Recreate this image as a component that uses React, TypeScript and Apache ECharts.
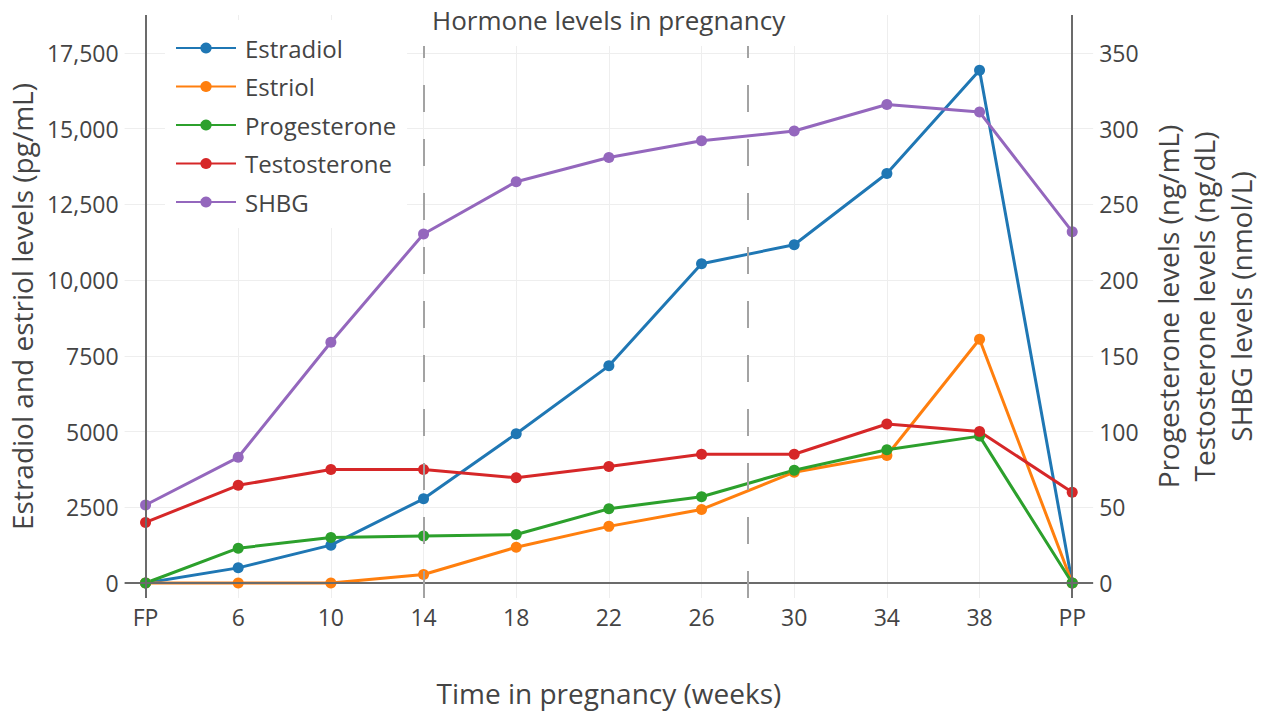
import React, { useEffect, useRef } from 'react';
import * as echarts from 'echarts';

// ---- data ----
const weekLabels = ['FP', '6', '10', '14', '18', '22', '26', '30', '34', '38', 'PP'];
const weekIndex = [0, 1, 2, 3, 4, 5, 6, 7, 8, 9, 10];
const estradiol = [0, 500, 1250, 2780, 4930, 7170, 10540, 11170, 13520, 16930, 0];
const estriol = [0, 0, 0, 280, 1180, 1870, 2430, 3660, 4210, 8050, 0];
const progesterone = [0, 23, 30, 31, 32, 49, 57, 74.5, 88, 97, 0];
const testosterone = [40, 64.5, 75, 75, 69.5, 77, 85, 85, 105, 100, 60];
const shbg = [51.5, 83, 159, 230.5, 265, 281, 292, 298.5, 316, 311, 232];
const leftTicks = [0, 2500, 5000, 7500, 10000, 12500, 15000, 17500];
const leftTickLabels = ['0', '2500', '5000', '7500', '10,000', '12,500', '15,000', '17,500'];
const rightTicks = [0, 50, 100, 150, 200, 250, 300, 350];
const trimesterBreaks = [3, 6.5]; // week 14 and week 28 on the index axis

const FONT = 'Open Sans';
const TXT = '#444';
const GRID = '#eeeeee';

const pairs = (vals: number[]) => vals.map((v, i) => [weekIndex[i], v]);

export default function App() {
  const ref = useRef<HTMLDivElement>(null);
  useEffect(() => {
    document.body.style.margin = '0';
    if (!ref.current) return;
    const chart = echarts.init(ref.current, undefined, { renderer: 'svg' });
    const colors = ['#1f77b4', '#ff7f0e', '#2ca02c', '#d62728', '#9467bd'];
    const mk = (name: string, vals: number[], idx: number, yAxisIndex: number) => ({
      type: 'line',
      name,
      data: pairs(vals),
      yAxisIndex,
      symbol: 'circle',
      symbolSize: 11,
      showSymbol: true,
      color: colors[idx],
      lineStyle: { width: 3, color: colors[idx] },
      itemStyle: { color: colors[idx] },
      z: 3,
    });
    const axisLineStyle = { color: '#6b6b6b', width: 2, type: 'solid' };
    const dashStyle = { color: '#a3a3a3', width: 2, type: [27, 27] };
    const option: any = {
      animation: false,
      textStyle: { fontFamily: FONT },
      title: {
        text: 'Hormone levels in pregnancy',
        left: 410,
        top: 0,
        padding: [7, 22, 13, 22],
        backgroundColor: '#fff',
        textStyle: { fontSize: 26, fontWeight: 'normal', color: TXT, fontFamily: FONT },
      },
      legend: {
        data: ['Estradiol', 'Estriol', 'Progesterone', 'Testosterone', 'SHBG'],
        orient: 'vertical',
        left: 165,
        top: 20,
        padding: [16, 11, 14, 10],
        backgroundColor: '#fff',
        itemWidth: 60,
        itemHeight: 14,
        itemGap: 14.5,
        textStyle: { fontSize: 24, color: TXT, lineHeight: 24, fontFamily: FONT, padding: [0, 0, 0, 4] },
      },
      grid: { left: 124, right: 170, top: 15, bottom: 115 },
      xAxis: {
        type: 'value',
        min: -0.226,
        max: 10.226,
        name: 'Time in pregnancy (weeks)',
        nameLocation: 'middle',
        nameGap: 81,
        nameTextStyle: { fontSize: 28, color: TXT, fontFamily: FONT },
        axisLine: { show: false },
        axisTick: { show: false, customValues: weekIndex },
        axisLabel: {
          customValues: weekIndex,
          formatter: (v: number) => weekLabels[Math.round(v)] ?? '',
          fontSize: 23,
          color: TXT,
          margin: 7,
          fontFamily: FONT,
        },
        splitLine: { show: true, lineStyle: { color: GRID, width: 1 } },
      },
      yAxis: [
        {
          type: 'value',
          position: 'left',
          min: -495.3,
          max: 18754.7,
          name: 'Estradiol and estriol levels (pg/mL)',
          nameLocation: 'middle',
          nameGap: 86,
          nameRotate: 90,
          nameTextStyle: { fontSize: 28, color: TXT, fontFamily: FONT },
          axisLine: { show: false },
          axisTick: { show: false, customValues: leftTicks },
          axisLabel: {
            customValues: leftTicks,
            formatter: (v: number) => {
              const i = leftTicks.indexOf(v);
              return i >= 0 ? leftTickLabels[i] : '';
            },
            fontSize: 23,
            color: TXT,
            margin: 6,
            fontFamily: FONT,
          },
          splitLine: { show: true, lineStyle: { color: GRID, width: 1 } },
        },
        {
          type: 'value',
          position: 'right',
          min: -9.906,
          max: 375.09,
          name: 'Progesterone levels (ng/mL)\nTestosterone levels (ng/dL)\nSHBG levels (nmol/L)',
          nameLocation: 'middle',
          nameGap: 56,
          nameRotate: 90,
          nameTextStyle: { fontSize: 28, color: TXT, lineHeight: 36.5, align: 'center', fontFamily: FONT },
          axisLine: { show: false },
          axisTick: { show: false, customValues: rightTicks },
          axisLabel: {
            customValues: rightTicks,
            fontSize: 23,
            color: TXT,
            margin: 6,
            fontFamily: FONT,
          },
          splitLine: { show: false },
        },
      ],
      series: [
        {
          type: 'line',
          name: 'guides',
          data: [],
          z: 1,
          silent: true,
          symbol: 'none',
          markLine: {
            silent: true,
            symbol: ['none', 'none'],
            label: { show: false },
            animation: false,
            data: [
              { xAxis: weekIndex[0], lineStyle: axisLineStyle },
              { xAxis: weekIndex[weekIndex.length - 1], lineStyle: axisLineStyle },
              { yAxis: 0, lineStyle: axisLineStyle },
              ...trimesterBreaks.map((b) => ({ xAxis: b, lineStyle: dashStyle })),
            ],
          },
        },
        mk('Estradiol', estradiol, 0, 0),
        mk('Estriol', estriol, 1, 0),
        mk('Progesterone', progesterone, 2, 1),
        mk('Testosterone', testosterone, 3, 1),
        mk('SHBG', shbg, 4, 1),
      ],
    };
    chart.setOption(option);
    return () => chart.dispose();
  }, []);
  return <div ref={ref} style={{ width: 1267, height: 713 }} />;
}
